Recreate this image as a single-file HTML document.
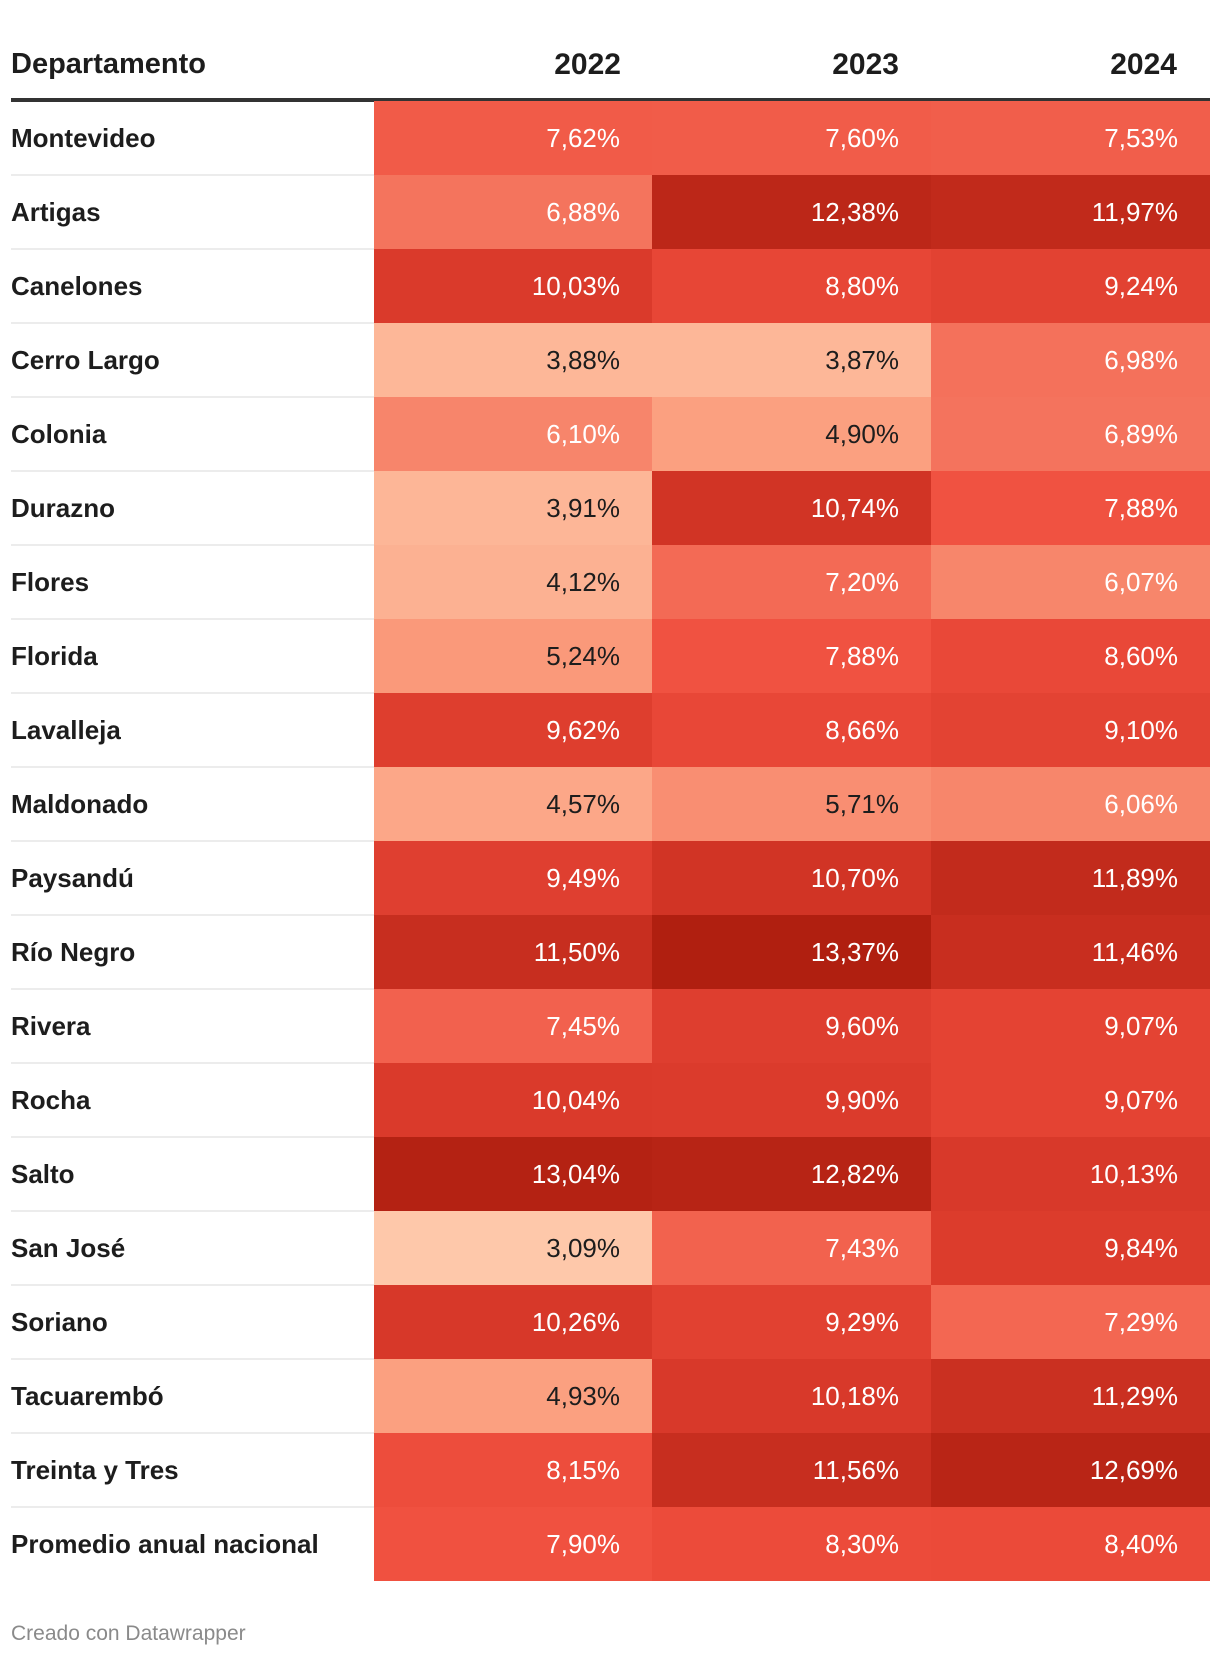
<!DOCTYPE html>
<html><head><meta charset="utf-8">
<style>
body{margin:0;background:#fff;width:1220px;height:1656px;overflow:hidden;font-family:"Liberation Sans",sans-serif;position:relative}
.hd{position:absolute;top:48px;font-weight:bold;font-size:30px;color:#1d1d1d}
.row{position:absolute;left:11px;width:1199px;height:74px}
.lab{position:absolute;left:0;top:0;height:100%;line-height:74px;font-weight:bold;font-size:26px;color:#1d1d1d}
.cell{position:absolute;top:0;height:100%;line-height:74px;text-align:right;font-size:26px;box-sizing:border-box;padding-right:32px}
.sep{position:absolute;left:0;width:363px;height:2px;background:#ececec}
</style></head><body>
<div class="hd" style="left:11px;font-size:29px">Departamento</div>
<div class="hd" style="right:599px">2022</div>
<div class="hd" style="right:321px">2023</div>
<div class="hd" style="right:43px">2024</div>
<div style="position:absolute;left:11px;top:98px;width:1199px;height:4px;background:#333"></div>
<div id="tbl"></div>
<div style="position:absolute;left:11px;top:1622px;font-size:21px;color:#8a8a8a">Creado con Datawrapper</div>
<script>
const departments=["Montevideo","Artigas","Canelones","Cerro Largo","Colonia","Durazno","Flores","Florida","Lavalleja","Maldonado","Paysandú","Río Negro","Rivera","Rocha","Salto","San José","Soriano","Tacuarembó","Treinta y Tres","Promedio anual nacional"];
const v2022=[7.62,6.88,10.03,3.88,6.10,3.91,4.12,5.24,9.62,4.57,9.49,11.50,7.45,10.04,13.04,3.09,10.26,4.93,8.15,7.90];
const v2023=[7.60,12.38,8.80,3.87,4.90,10.74,7.20,7.88,8.66,5.71,10.70,13.37,9.60,9.90,12.82,7.43,9.29,10.18,11.56,8.30];
const v2024=[7.53,11.97,9.24,6.98,6.89,7.88,6.07,8.60,9.10,6.06,11.89,11.46,9.07,9.07,10.13,9.84,7.29,11.29,12.69,8.40];
const years=["2022","2023","2024"];
const series=[v2022,v2023,v2024];
const stops=[[3,[254,202,172]],[5,[251,158,126]],[7,[244,113,91]],[8,[239,78,61]],[10,[218,58,43]],[12,[193,42,27]],[13.4,[176,31,16]]];
function color(v){
  if(v<=stops[0][0])return 'rgb('+stops[0][1]+')';
  for(let i=1;i<stops.length;i++){
    if(v<=stops[i][0]){const a=stops[i-1],b=stops[i],t=(v-a[0])/(b[0]-a[0]);
      return 'rgb('+a[1].map((c,k)=>Math.round(c+(b[1][k]-c)*t)).join(',')+')';}
  }
  return 'rgb('+stops[stops.length-1][1]+')';
}
const fmt=v=>v.toFixed(2).replace('.',',')+'%';
const colL=[363,641,920], colW=[278,279,279];
const tbl=document.getElementById('tbl');
departments.forEach((d,i)=>{
  const r=document.createElement('div');
  r.className='row';r.style.top=(101+i*74)+'px';
  
  
  const l=document.createElement('div');l.className='lab';l.textContent=d;
  
  
  r.appendChild(l);
  if(i>0){const s=document.createElement('div');s.className='sep';s.style.top='-1px';
    
    
    r.appendChild(s);}
  series.forEach((arr,j)=>{
    const v=arr[i];const c=document.createElement('div');c.className='cell';
    c.style.left=colL[j]+'px';c.style.width=colW[j]+'px';c.style.background=color(v);
    c.style.color=v<6?'#1d1d1d':'#fff';c.textContent=fmt(v);
    
    
    r.appendChild(c);
  });
  tbl.appendChild(r);
});
</script>
</body></html>
